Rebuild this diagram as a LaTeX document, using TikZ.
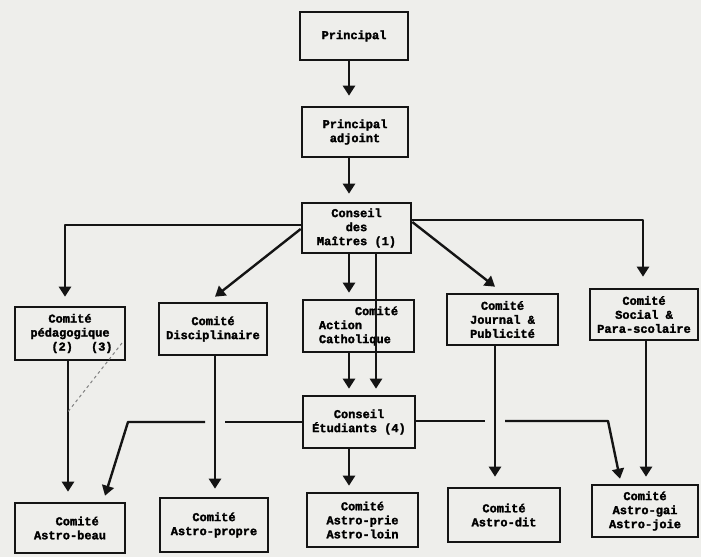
\documentclass[tikz,border=0pt]{standalone}
\usepackage{fontspec}
\setmonofont{Liberation Mono}[BoldFeatures={FakeBold=2}]
\usetikzlibrary{arrows.meta}
\definecolor{paper}{RGB}{238,238,235}
\definecolor{ink}{RGB}{20,20,20}
\begin{document}
\begin{tikzpicture}[x=1pt,y=-1pt,
  box/.style={draw=ink, line width=2.6pt, inner sep=2pt, align=center,
    font=\ttfamily\bfseries\fontsize{12}{14}\selectfont},
  conn/.style={draw=ink, line width=2.4pt, line join=round},
  arr/.style={conn, -{Triangle[length=10pt,width=12pt]}},
  pencil/.style={draw=gray, line width=1pt, dashed}]
\fill[paper] (0,0) rectangle (701,557);
\useasboundingbox (0,0) rectangle (701,557);

% boxes
\node[box, minimum width=108pt, minimum height=48pt] (prin) at (354,36) {Principal};
\node[box, minimum width=106pt, minimum height=50pt] (adj) at (355,132) {Principal\\adjoint};
\node[box, minimum width=109pt, minimum height=50pt] (cdm) at (356.5,228) {Conseil\\des\\Maîtres (1)};
\node[box, minimum width=110pt, minimum height=53pt] (ped) at (70,333.5) {Comité\\pédagogique\\\hspace*{2em}(2)\hspace{1.5em}(3)};
\node[box, minimum width=108pt, minimum height=52pt] (disc) at (213,329) {Comité\\Disciplinaire};
\node[box, minimum width=111pt, minimum height=52pt, align=left] (act) at (358.5,326) {\hspace*{3em}Comité\\Action\\Catholique};
\node[box, minimum width=111pt, minimum height=51pt] (jour) at (502.5,319.5) {Comité\\Journal \&\\Publicité};
\node[box, minimum width=108pt, minimum height=51pt] (soc) at (644,314.5) {Comité\\Social \&\\Para-scolaire};
\node[box, minimum width=112pt, minimum height=52pt] (cet) at (359,422) {Conseil\\Étudiants (4)};
\node[box, minimum width=110pt, minimum height=50pt, align=left] (beau) at (70,528) {\hspace*{1.8em}Comité\\Astro-beau};
\node[box, minimum width=108pt, minimum height=54pt] (propre) at (214,525) {Comité\\Astro-propre};
\node[box, minimum width=111pt, minimum height=54pt] (prie) at (362.5,520) {Comité\\Astro-prie\\Astro-loin};
\node[box, minimum width=112pt, minimum height=54pt] (dit) at (504,515) {Comité\\Astro-dit};
\node[box, minimum width=106pt, minimum height=52pt] (gai) at (645,511) {Comité\\Astro-gai\\Astro-joie};

% vertical chain
\draw[arr, shorten >=10pt] ([xshift=-5pt]prin.south) -- ([xshift=-5pt]prin.south |- adj.north);
\draw[arr, shorten >=8pt] ([xshift=-6pt]adj.south) -- ([xshift=-6pt]adj.south |- cdm.north);

% from Conseil des Maitres
\draw[arr] ([yshift=3pt]cdm.west) -| ([xshift=-5pt,yshift=9pt]ped.north);
\draw[arr] ([yshift=-1pt]cdm.west) -- ([xshift=2pt,yshift=5pt]disc.north);
\draw[arr, shorten >=6pt] ([xshift=-7.5pt]cdm.south) -- ([xshift=-7.5pt]cdm.south |- act.north);
\draw[arr, shorten >=6pt] ([xshift=19.5pt]cdm.south) -- ([xshift=19.5pt]cdm.south |- cet.north);
\draw[arr] ([yshift=6pt]cdm.east) -- ([xshift=-7.5pt,yshift=6pt]jour.north);
\draw[arr] ([yshift=8pt]cdm.east) -| ([xshift=-1pt,yshift=11pt]soc.north);

% committees to lower level
\draw[arr, shorten >=6pt] ([xshift=-9.5pt]act.south) -- ([xshift=-9.5pt]act.south |- cet.north);
\draw[arr, shorten >=10pt] ([xshift=-2pt]ped.south) -- ([xshift=-2pt]ped.south |- beau.north);
\draw[arr, shorten >=8pt] ([xshift=2pt]disc.south) -- ([xshift=2pt]disc.south |- propre.north);
\draw[arr, shorten >=6pt] ([xshift=-10pt]cet.south) -- ([xshift=-10pt]cet.south |- prie.north);
\draw[arr, shorten >=10pt] ([xshift=-7.5pt]jour.south) -- ([xshift=-7.5pt]jour.south |- dit.north);
\draw[arr, shorten >=7pt] ([xshift=2pt]soc.south) -- ([xshift=2pt]soc.south |- gai.north);

% Conseil Etudiants side branches with line hops
\coordinate (hl1) at (225,422);
\coordinate (hl2) at (205,422);
\coordinate (hl3) at (128,422);
\draw[conn] (cet.west) -- (hl1);
\draw[arr] (hl2) -- (hl3) -- ([xshift=35pt,yshift=6pt]beau.north);
\coordinate (hr1) at (485,421);
\coordinate (hr2) at (505,421);
\coordinate (hr3) at (608,421);
\draw[conn] ([yshift=1pt]cet.east) -- (hr1);
\draw[arr] (hr2) -- (hr3) -- ([xshift=-25pt,yshift=5pt]gai.north);

% pencil mark
\coordinate (pm1) at (122,343);
\coordinate (pm2) at (67,413);
\draw[pencil] (pm1) -- (pm2);
\end{tikzpicture}
\end{document}
